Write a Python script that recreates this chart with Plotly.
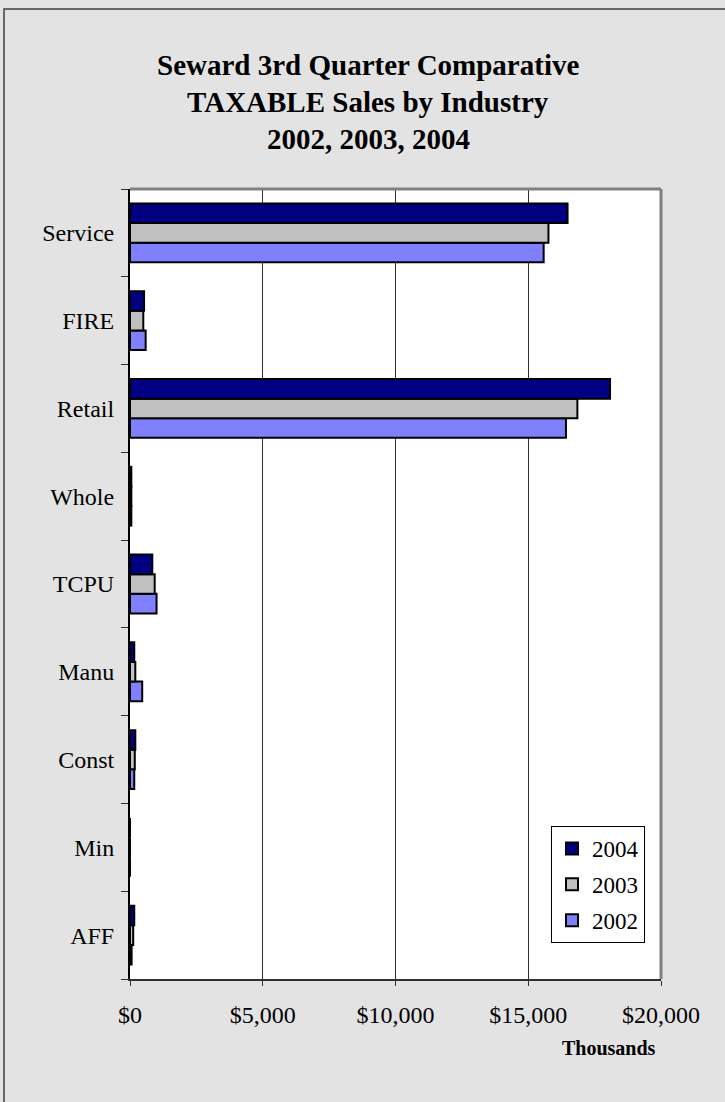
import plotly.graph_objects as go

categories = ["Service", "FIRE", "Retail", "Whole", "TCPU", "Manu", "Const", "Min", "AFF"]
sales_2004 = [16480, 530, 18080, 50, 840, 160, 200, 0, 160]
sales_2003 = [15760, 500, 16850, 50, 930, 200, 180, 0, 120]
sales_2002 = [15580, 590, 16420, 50, 1000, 460, 160, 0, 60]
x_ticks = [0, 5000, 10000, 15000, 20000]
x_tick_labels = ["$0", "$5,000", "$10,000", "$15,000", "$20,000"]
title_lines = ["Seward 3rd Quarter Comparative", "TAXABLE Sales by Industry", "2002, 2003, 2004"]

SERIF = "Liberation Serif, Times New Roman, serif"
W, H = 725, 1102
L, R, T, B = 130, 661, 189, 979

fig = go.Figure()
for rank, name, vals, col in [(3, "2002", sales_2002, "#8080FF"),
                              (2, "2003", sales_2003, "#C0C0C0"),
                              (1, "2004", sales_2004, "#000080")]:
    fig.add_trace(go.Bar(
        y=categories, x=vals, name=name, orientation="h", legendgroup=name,
        legendrank=rank,
        marker=dict(color=col, line=dict(color="black", width=2)),
    ))

def px(xp):
    return (xp - L) / (R - L)

def py(yp):
    return (B - yp) / (B - T)

shapes = [
    # outer frame (left and top edges visible)
    dict(type="rect", xref="paper", yref="paper", x0=px(4), x1=px(760), y0=py(1140), y1=py(9),
         line=dict(color="#404040", width=1.5), fillcolor="rgba(0,0,0,0)", layer="below"),
    # plot area gray frame top and right
    dict(type="line", xref="paper", yref="paper", x0=0, x1=1, y0=1, y1=1,
         line=dict(color="#808080", width=3)),
    dict(type="line", xref="paper", yref="paper", x0=1, x1=1, y0=0, y1=1,
         line=dict(color="#808080", width=3)),
]

annotations = []
for yc, t in zip([65, 102, 139], title_lines):
    annotations.append(dict(text="<b>%s</b>" % t, xref="paper", yref="paper",
                            x=px(368), y=py(yc), xanchor="center", yanchor="middle",
                            showarrow=False, font=dict(family=SERIF, size=29, color="black")))
annotations.append(dict(text="<b>Thousands</b>", xref="paper", yref="paper",
                        x=px(609), y=py(1048), xanchor="center", yanchor="middle",
                        showarrow=False, font=dict(family=SERIF, size=20, color="black")))

fig.update_layout(
    width=W, height=H,
    margin=dict(l=L, r=W - R, t=T, b=H - B, pad=0),
    paper_bgcolor="#E3E3E3", plot_bgcolor="white",
    barmode="group", bargap=0.33, bargroupgap=0,
    font=dict(family=SERIF, size=24, color="black"),
    showlegend=True,
    legend=dict(x=px(551), y=py(826), xanchor="left", yanchor="top",
                bgcolor="white", bordercolor="black", borderwidth=1,
                traceorder="grouped", tracegroupgap=3,
                font=dict(family=SERIF, size=23),
                itemwidth=30),
    xaxis=dict(range=[0, 20000], tickvals=x_ticks, ticktext=x_tick_labels,
               showgrid=True, gridcolor="#303030", gridwidth=1,
               showline=True, linecolor="#303030", linewidth=2,
               ticks="outside", ticklen=5, tickcolor="#303030",
               ticklabelstandoff=8,
               tickfont=dict(family=SERIF, size=24), zeroline=False, fixedrange=True),
    yaxis=dict(categoryorder="array", categoryarray=categories[::-1],
               showline=True, linecolor="black", linewidth=2,
               ticks="outside", ticklen=7, tickson="boundaries", tickcolor="#303030",
               ticklabelstandoff=9,
               tickfont=dict(family=SERIF, size=24), showgrid=False, fixedrange=True),
    shapes=shapes, annotations=annotations,
)

fig.write_html("out.html", config={"displayModeBar": False},
               post_script="document.body.style.margin='0';")
